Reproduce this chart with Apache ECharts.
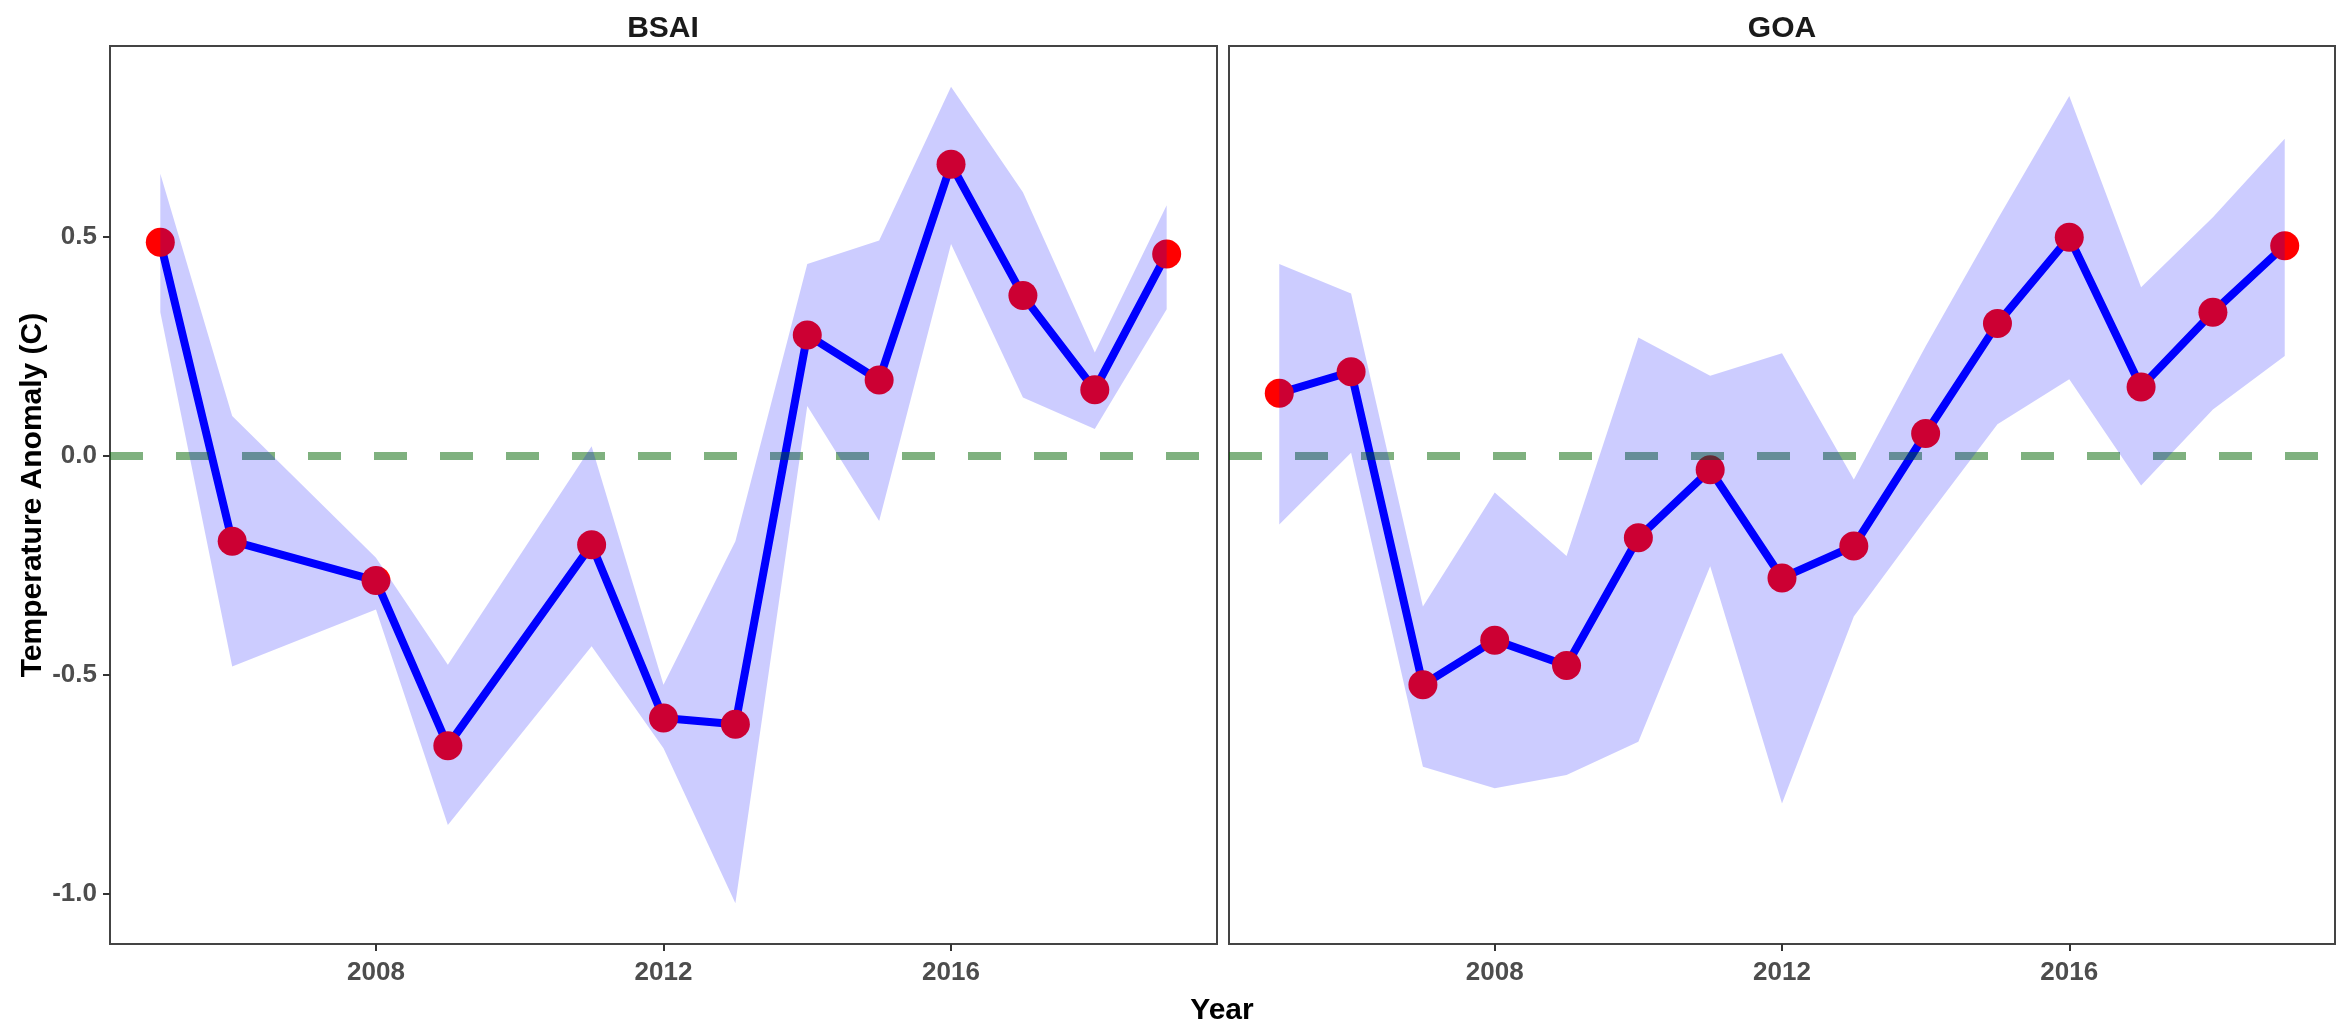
<!DOCTYPE html>
<html>
<head>
<meta charset="utf-8">
<script src="https://cdn.jsdelivr.net/npm/echarts@6/dist/echarts.min.js"></script>
<style>
  html, body { margin: 0; padding: 0; background: #ffffff; }
  #chart { width: 2351px; height: 1027px; }
</style>
</head>
<body>
<div id="chart"></div>
<script>
// ---- data ----
const panelTitles = ['BSAI', 'GOA'];

const bsaiYears = [2005, 2006, 2008, 2009, 2011, 2012, 2013, 2014, 2015, 2016, 2017, 2018, 2019];
const bsaiMean  = [0.488, -0.195, -0.285, -0.662, -0.203, -0.599, -0.613, 0.276, 0.173, 0.666, 0.366, 0.151, 0.461];
const bsaiUpper = [0.644, 0.091, -0.233, -0.477, 0.022, -0.523, -0.195, 0.438, 0.492, 0.843, 0.602, 0.236, 0.572];
const bsaiLower = [0.328, -0.481, -0.351, -0.843, -0.435, -0.668, -1.022, 0.114, -0.149, 0.484, 0.133, 0.061, 0.335];

const goaYears = [2005, 2006, 2007, 2008, 2009, 2010, 2011, 2012, 2013, 2014, 2015, 2016, 2017, 2018, 2019];
const goaMean  = [0.143, 0.192, -0.523, -0.421, -0.479, -0.187, -0.032, -0.279, -0.206, 0.051, 0.302, 0.499, 0.157, 0.328, 0.480];
const goaUpper = [0.438, 0.371, -0.344, -0.084, -0.229, 0.270, 0.183, 0.234, -0.054, 0.250, 0.540, 0.822, 0.385, 0.545, 0.724];
const goaLower = [-0.157, 0.007, -0.710, -0.759, -0.729, -0.653, -0.252, -0.794, -0.367, -0.145, 0.072, 0.175, -0.068, 0.106, 0.228];

const xTicks = [2008, 2012, 2016];
const yTicks = [-1.0, -0.5, 0.0, 0.5];
const xRange = [2004.3, 2019.7];
const yRange = [-1.115, 0.936];
const refValue = 0;

const xName = 'Year';
const yName = 'Temperature Anomaly (C)';

// ---- build options ----
const FONT = '"Liberation Sans", Arial, sans-serif';
const pairs = (xs, ys) => xs.map((x, i) => [x, ys[i]]);
const bandRows = (xs, up, lo) => xs.map((x, i) => [x, lo[i], up[i]]);

const grids = [
  { left: 110, top: 46, width: 1107, height: 898 },
  { left: 1229, top: 46, width: 1106, height: 898 }
].map(g => Object.assign(g, { show: true, borderColor: '#444444', borderWidth: 2, backgroundColor: 'transparent' }));

function makeX(idx) {
  return {
    type: 'value', gridIndex: idx, min: xRange[0], max: xRange[1],
    axisLine: { show: false, onZero: false },
    splitLine: { show: false },
    axisTick: { show: true, customValues: xTicks, length: 7, lineStyle: { color: '#333333', width: 2 } },
    axisLabel: { show: true, customValues: xTicks, margin: 16, fontSize: 26, fontWeight: 'bold', color: '#4D4D4D', fontFamily: FONT, formatter: v => String(v) }
  };
}
function makeY(idx, showLabels) {
  const ax = {
    type: 'value', gridIndex: idx, min: yRange[0], max: yRange[1],
    axisLine: { show: false, onZero: false },
    splitLine: { show: false },
    axisTick: { show: showLabels, customValues: yTicks, length: 7, lineStyle: { color: '#333333', width: 2 } },
    axisLabel: { show: showLabels, customValues: yTicks, margin: 13, fontSize: 26, fontWeight: 'bold', color: '#4D4D4D', fontFamily: FONT, formatter: v => v.toFixed(1) }
  };
  if (showLabels) {
    Object.assign(ax, {
      name: yName, nameLocation: 'middle', nameRotate: 90, nameGap: 62,
      nameTextStyle: { fontSize: 30, fontWeight: 'bold', color: '#000000', fontFamily: FONT }
    });
  }
  return ax;
}

function panelSeries(idx, years, mean, upper, lower) {
  const rows = bandRows(years, upper, lower);
  return [
    {
      // reference line at zero (dashed), drawn under everything else
      type: 'line', xAxisIndex: idx, yAxisIndex: idx, z: 1,
      data: [], showSymbol: false, silent: true,
      markLine: {
        silent: true, symbol: ['none', 'none'], label: { show: false },
        lineStyle: { color: 'rgba(0,100,0,0.5)', width: 8, type: [33, 33], cap: 'butt' },
        data: [{ yAxis: refValue }]
      }
    },
    {
      type: 'line', xAxisIndex: idx, yAxisIndex: idx, z: 2,
      data: pairs(years, mean), showSymbol: false, symbol: 'none',
      lineStyle: { color: '#0000FF', width: 8, join: 'round', cap: 'round' }
    },
    {
      type: 'scatter', xAxisIndex: idx, yAxisIndex: idx, z: 3,
      data: pairs(years, mean), symbol: 'circle', symbolSize: 29,
      itemStyle: { color: '#FF0000', opacity: 1 }
    },
    {
      // confidence ribbon, drawn on top with transparency (as in the reference)
      type: 'custom', xAxisIndex: idx, yAxisIndex: idx, z: 5, silent: true,
      data: rows,
      encode: { x: 0, y: [1, 2] },
      renderItem: function (params, api) {
        if (params.dataIndex !== 0) return null;
        const top = rows.map(r => api.coord([r[0], r[2]]));
        const bot = rows.map(r => api.coord([r[0], r[1]])).reverse();
        return {
          type: 'polygon',
          shape: { points: top.concat(bot) },
          style: { fill: 'rgba(0,0,255,0.2)', stroke: null }
        };
      }
    }
  ];
}

const option = {
  animation: false,
  backgroundColor: '#ffffff',
  grid: grids,
  xAxis: [makeX(0), makeX(1)],
  yAxis: [makeY(0, true), makeY(1, false)],
  series: [
    ...panelSeries(0, bsaiYears, bsaiMean, bsaiUpper, bsaiLower),
    ...panelSeries(1, goaYears, goaMean, goaUpper, goaLower)
  ],
  graphic: [
    { type: 'text', x: 663, y: 29, style: { text: panelTitles[0], textAlign: 'center', textVerticalAlign: 'middle', font: 'bold 30px ' + FONT, fill: '#1A1A1A' } },
    { type: 'text', x: 1782, y: 29, style: { text: panelTitles[1], textAlign: 'center', textVerticalAlign: 'middle', font: 'bold 30px ' + FONT, fill: '#1A1A1A' } },
    { type: 'text', x: 1222, y: 1011, style: { text: xName, textAlign: 'center', textVerticalAlign: 'middle', font: 'bold 30px ' + FONT, fill: '#000000' } }
  ]
};

const chart = echarts.init(document.getElementById('chart'), null, { renderer: 'canvas' });
chart.setOption(option);
</script>
</body>
</html>
